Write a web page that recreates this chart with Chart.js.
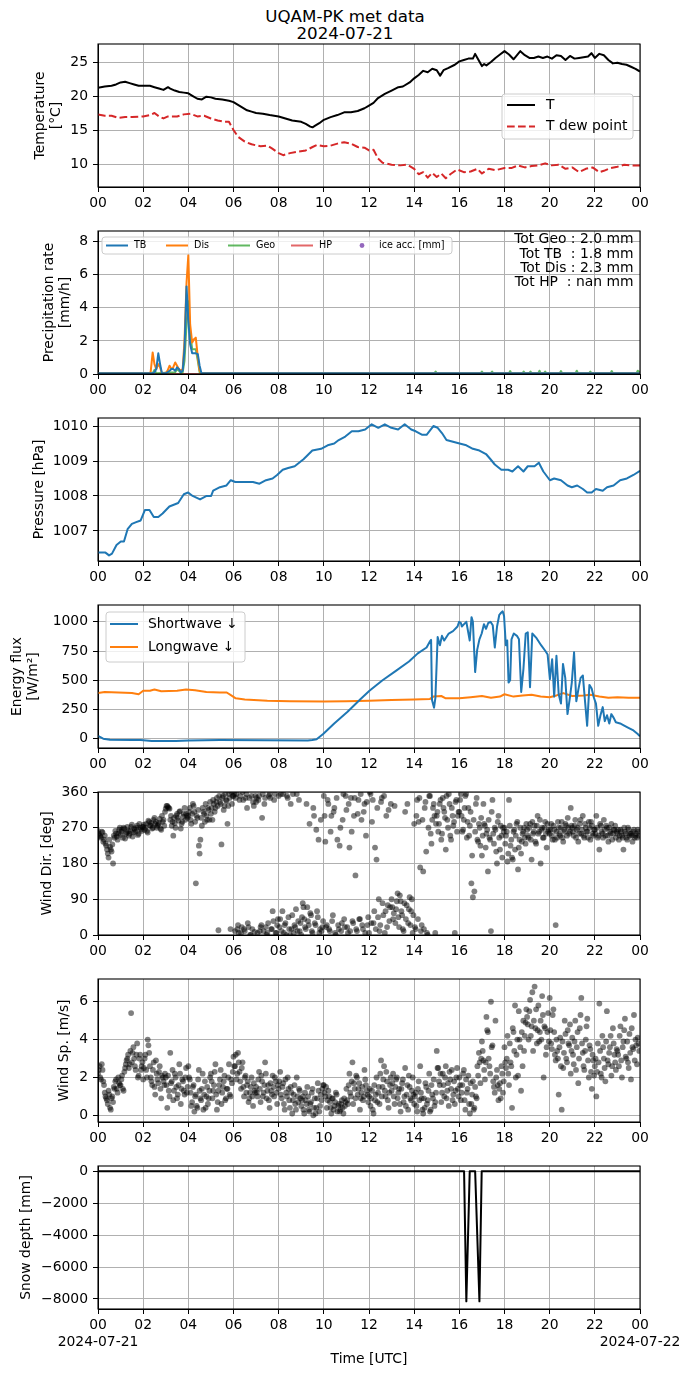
<!DOCTYPE html>
<html>
<head>
<meta charset="utf-8">
<script src="https://cdn.jsdelivr.net/npm/chart.js@4.4.1/dist/chart.umd.min.js"></script>
<style>
html,body{margin:0;padding:0;background:#fff;}
body{width:690px;height:1377px;position:relative;overflow:hidden;font-family:'DejaVu Sans';}
.ttl{position:absolute;left:0;width:690px;text-align:center;font-size:16.7px;line-height:17px;color:#000;font-family:'DejaVu Sans';}
</style>
</head>
<body>
<div class="ttl" style="top:7.5px">UQAM-PK met data</div>
<div class="ttl" style="top:24.5px">2024-07-21</div>
<script>
// ---------------- DATA ----------------
const hourTicks = [0,2,4,6,8,10,12,14,16,18,20,22,24];
const firstDay = '2024-07-21';
const nextDay = '2024-07-22';

// Temperature
const tempHours = [0,0.3,0.6,0.8,1.0,1.2,1.4,1.6,1.8,2.0, 2.3,2.5,2.7,2.9,3.1,3.2,3.4,3.6,3.8,4.0, 4.2,4.4,4.6,4.8,5.0,5.2,5.5,5.8,6.0,6.2, 6.4,6.6,6.8,7.0,7.3,7.6,8.0,8.3,8.6,9.0, 9.2,9.4,9.5,9.6,9.8,10.0,10.3,10.6,10.9,11.2, 11.5,11.8,12.0,12.2,12.4,12.7,13.0,13.3,13.5,13.8, 14.0,14.2,14.4,14.6,14.8,15.0,15.15,15.3,15.5,15.8, 16.0,16.2,16.4,16.6,16.7,16.8,16.9,17.0,17.1,17.2, 17.4,17.6,17.8,18.0,18.2,18.4,18.6,18.7,18.9,19.1, 19.3,19.5,19.7,19.9,20.1,20.3,20.5,20.7,20.9,21.1, 21.3,21.5,21.7,21.85,22.0,22.2,22.4,22.6,22.8,23.0, 23.2,23.4,23.6,23.8,24.0];
const tempVals = [21.2,21.4,21.5,21.7,22.0,22.1,21.9,21.7,21.5,21.5, 21.5,21.3,21.1,20.9,21.3,21.1,20.8,20.6,20.5,20.4, 20.0,19.6,19.5,19.9,19.8,19.6,19.5,19.3,19.1,18.7, 18.3,17.9,17.7,17.5,17.4,17.2,17.0,16.7,16.4,16.2, 15.9,15.5,15.4,15.6,16.0,16.5,16.9,17.2,17.6,17.6, 17.8,18.2,18.6,19.0,19.7,20.3,20.8,21.3,21.4,22.0, 22.6,23.1,23.7,23.5,24.0,23.8,23.0,23.8,24.1,24.6, 25.1,25.3,25.5,25.5,26.2,25.6,25.0,24.4,24.7,24.5, 25.0,25.6,26.1,26.6,26.1,25.4,26.2,26.6,26.0,25.6, 25.6,25.8,25.6,25.8,25.5,26.0,25.9,25.3,25.9,25.5, 25.6,25.7,25.8,26.3,25.6,26.2,26.0,25.3,24.8,24.9, 24.7,24.6,24.3,24.0,23.6];
const dewHours = [0,0.3,0.6,0.9,1.2,1.5,2.0,2.3,2.5,2.7, 2.9,3.1,3.5,3.8,4.1,4.4,4.7,5.0,5.3,5.6, 5.8,6.0,6.2,6.5,6.8,7.2,7.5,7.7,8.0,8.2, 8.5,8.8,9.2,9.5,9.7,10.0,10.3,10.6,10.9,11.2, 11.5,11.8,12.0,12.2,12.4,12.6,13.0,13.4,13.7,14.0, 14.2,14.4,14.6,14.8,15.0,15.2,15.4,15.6,15.9,16.2, 16.5,16.8,17.0,17.3,17.6,18.0,18.3,18.6,18.9,19.2, 19.5,19.8,20.1,20.4,20.7,21.0,21.3,21.6,21.9,22.2, 22.4,22.7,23.0,23.3,23.6,24.0];
const dewVals = [17.3,17.1,17.1,16.8,16.9,16.9,17.0,17.2,17.5,17.0, 16.7,17.0,17.0,17.3,17.4,17.0,17.1,16.7,16.4,16.2, 16.2,15.0,14.0,13.3,12.9,12.6,12.7,12.3,11.6,11.3, 11.6,11.8,12.0,12.5,12.8,12.6,12.7,13.0,13.2,13.0, 12.5,12.4,12.0,12.1,10.8,10.2,9.9,9.8,9.9,9.3, 8.5,8.8,8.0,8.7,8.1,8.6,7.9,8.5,9.2,8.8, 8.9,9.3,8.6,9.3,9.1,9.4,9.4,9.8,9.5,9.7, 9.8,10.1,9.8,9.9,9.3,9.5,8.8,9.3,9.5,8.8, 9.0,9.4,9.6,9.9,9.8,9.8];
const tempTicks = [10,15,20,25];

// Precipitation
const precipHours = [0,2.25,2.33,2.42,2.5,2.58,2.67,2.75,2.83,2.92, 3.0,3.08,3.17,3.25,3.33,3.42,3.5,3.58,3.67,3.75, 3.83,3.92,4.0,4.08,4.17,4.25,4.33,4.42,4.5,4.58, 4.67,24];
const tbVals = [0.05,0.05,0.05,0.05,0.1,0.3,1.25,0.6,0.05,0.05, 0.05,0.1,0.2,0.3,0.3,0.2,0.4,0.3,0.1,0.2, 1.5,5.3,3.2,1.8,1.25,1.25,1.25,1.2,0.5,0.05, 0.05,0.05];
const disVals = [0.05,0.05,0.1,1.3,0.6,0.3,0.6,0.4,0.05,0.05, 0.05,0.2,0.5,0.3,0.4,0.7,0.5,0.3,0.2,0.3, 2.0,5.5,7.2,3.0,1.9,2.1,2.2,1.0,0.2,0.05, 0.05,0.05];
const geoHours = [0,2.42,2.5,2.58,3.42,3.5,3.58,3.67,3.75,3.83, 3.92,4.0,4.08,4.17,4.25,4.33,4.42,4.5,4.58,14.9, 14.95,15.0,16.95,17.0,17.05,17.4,17.45,17.5,18.2,18.25, 18.3,18.8,18.85,18.9,19.1,19.15,19.2,19.5,19.55,19.6, 19.75,19.8,19.85,20.45,20.5,20.55,21.15,21.2,21.25,21.75, 21.8,21.85,22.7,22.75,22.8,23.85,23.9,24];
const geoVals = [0.05,0.05,0.25,0.05,0.1,0.3,0.2,0.05,0.1,0.8, 3.0,4.4,2.5,1.5,1.5,1.5,0.8,0.1,0.05,0.05, 0.15,0.05,0.05,0.15,0.05,0.05,0.15,0.05,0.05,0.18, 0.05,0.05,0.15,0.05,0.05,0.15,0.05,0.05,0.2,0.05, 0.05,0.15,0.05,0.05,0.18,0.05,0.05,0.2,0.05,0.05, 0.15,0.05,0.05,0.18,0.05,0.05,0.2,0.1];
const hpHours = [0,14.3];
const hpVals = [0,0];
const precipTotals = ['Tot Geo : 2.0 mm','Tot TB  : 1.8 mm','Tot Dis : 2.3 mm','Tot HP  : nan mm'];
const precipTicks = [0,2,4,6,8];

// Pressure
const presHours = [0,0.33,0.49,0.62,0.82,1.01,1.15,1.31,1.50,1.69, 1.89,2.08,2.28,2.47,2.67,2.86,3.16,3.55,3.80,3.99, 4.19,4.52,4.81,5.01,5.10,5.40,5.69,5.88,6.08,6.33, 6.57,6.86,7.15,7.44,7.73,7.93,8.18,8.42,8.71,9.10, 9.49,9.88,10.17,10.46,10.66,10.95,11.24,11.53,11.83,12.12, 12.41,12.70,12.99,13.29,13.58,13.87,14.07,14.36,14.55,14.85, 15.04,15.23,15.43,15.72,16.01,16.31,16.60,16.89,17.18,17.38, 17.57,17.86,18.16,18.35,18.60,18.84,19.03,19.33,19.52,19.72, 20.01,20.20,20.50,20.79,20.98,21.22,21.47,21.66,21.86,22.05, 22.35,22.54,22.83,23.12,23.42,23.71,24.0];
const presVals = [1006.38,1006.38,1006.3,1006.35,1006.6,1006.7,1006.7,1007.05,1007.2,1007.25, 1007.3,1007.6,1007.6,1007.4,1007.4,1007.5,1007.7,1007.8,1008.05,1008.1, 1008.0,1007.9,1008.0,1008.0,1008.15,1008.25,1008.3,1008.45,1008.4,1008.4, 1008.4,1008.4,1008.35,1008.45,1008.5,1008.6,1008.75,1008.8,1008.85,1009.05, 1009.3,1009.35,1009.45,1009.5,1009.6,1009.7,1009.85,1009.85,1009.9,1010.05, 1009.95,1010.05,1009.95,1009.9,1010.05,1009.9,1009.85,1009.75,1009.75,1010.0, 1009.95,1009.8,1009.6,1009.55,1009.5,1009.45,1009.35,1009.3,1009.2,1009.05, 1008.9,1008.75,1008.75,1008.7,1008.85,1008.7,1008.85,1008.85,1008.95,1008.7, 1008.45,1008.5,1008.45,1008.3,1008.25,1008.3,1008.2,1008.1,1008.1,1008.2, 1008.15,1008.25,1008.3,1008.45,1008.5,1008.6,1008.72];
const presTicks = [1007,1008,1009,1010];

// Radiation
const swHours = [0,0.23,0.53,1.50,1.89,2.38,3.45,4.03,5.40,7.34, 9.29,9.49,9.68,9.97,10.46,11.05,11.63,12.02,12.60,13.19, 13.77,14.16,14.55,14.69,14.75,14.79,14.88,14.94,15.04,15.14, 15.23,15.33,15.43,15.53,15.72,15.92,15.99,16.07,16.11,16.21, 16.31,16.46,16.54,16.60,16.70,16.79,16.89,16.99,17.09,17.18, 17.28,17.38,17.48,17.57,17.67,17.77,17.86,17.92,17.98,18.06, 18.12,18.18,18.25,18.31,18.41,18.55,18.64,18.74,18.84,18.94, 19.03,19.13,19.23,19.42,19.62,19.81,19.91,20.01,20.11,20.20, 20.30,20.40,20.50,20.59,20.69,20.79,20.88,20.98,21.08,21.18, 21.27,21.37,21.47,21.57,21.66,21.76,21.86,21.96,22.05,22.15, 22.25,22.35,22.44,22.54,22.64,22.73,22.83,22.93,23.12,23.32, 23.51,23.71,23.90,24.00];
const swVals = [23,0,-10,-12,-12,-20,-20,-15,-12,-13, -15,-12,-5,40,130,230,340,410,500,580, 660,730,780,830,845,330,265,350,870,800, 880,840,870,900,920,960,1000,990,960,980, 1000,840,1040,1000,570,760,850,900,980,940, 990,1000,970,780,960,1060,1080,1090,1050,800, 840,480,500,850,900,880,850,400,600,900, 910,440,900,860,800,750,720,510,680,360, 710,380,300,640,520,210,330,480,740,320, 420,520,540,310,110,460,430,350,300,110, 200,270,150,200,130,210,180,140,130,110, 90,70,40,20];
const lwHours = [0,0.3,1.5,1.8,2.0,2.3,2.5,2.8,3.5,3.9, 4.3,4.8,5.4,5.7,5.9,6.1,6.5,7.5,8.5,10, 11,12,13,14,14.7,14.85,15.2,15.4,16,16.5, 17,17.4,17.8,18,18.4,18.8,19.2,19.6,20,20.3, 20.6,21,21.5,21.8,22.2,22.6,23,23.5,24];
const lwVals = [390,400,390,380,410,410,420,405,410,420, 415,400,395,395,370,345,335,325,320,318, 320,325,330,335,340,360,365,345,345,355, 365,350,360,380,360,370,375,360,355,370, 390,365,370,375,360,350,355,350,350];
const energyTicks = [0,250,500,750,1000];

// Wind: two interleaved sample sets, every 4 minutes (15 per hour), second set 2 minutes later
const windStepHours = 4/60;
const windDir = [
262,250,245,258,240,230,215,195,222,210,180,245,255,240,265,
252,265,270,243,258,262,255,272,248,268,260,275,255,270,262,
272,265,280,258,285,275,268,290,280,270,278,292,265,285,275,
318,325,320,290,275,250,282,300,295,310,268,285,305,290,300,
300,320,280,330,310,130,295,225,240,275,310,285,300,320,290,
305,290,330,320,345,12,335,228,350,325,340,280,355,15,330,
350,10,355,25,340,5,360,15,345,320,20,0,350,335,8,
335,5,350,20,295,10,345,0,30,355,15,60,340,5,25,
350,40,10,355,25,0,345,15,330,50,5,20,355,35,10,
0,80,40,15,70,25,55,10,320,30,265,45,5,290,20,
350,235,25,330,10,300,50,320,0,240,15,270,30,355,20,
315,5,220,345,35,300,150,10,340,40,290,15,330,250,25,
5,355,285,30,220,190,45,10,335,80,350,60,20,315,70,
90,40,325,65,105,20,85,50,10,310,75,30,95,60,5,
280,15,340,285,170,25,160,320,210,0,350,255,290,330,5,
300,260,330,240,345,310,215,290,355,250,320,275,5,340,300,
310,355,260,290,350,245,320,275,130,95,110,330,240,280,225,
200,330,275,255,160,245,10,340,230,265,180,300,215,250,270,
270,250,185,340,225,195,260,215,280,165,240,205,255,270,230,
265,245,280,190,255,275,230,300,260,180,270,245,285,220,260,
255,280,240,265,25,245,270,250,285,235,260,275,295,255,320,
270,250,290,265,235,280,255,300,245,270,260,285,240,275,250,
265,300,245,215,275,255,290,250,270,235,260,280,255,265,245,
255,240,265,250,215,260,245,270,250,255,235,265,250,245,260];
const windDir2 = [
255,248,260,235,250,225,205,240,215,228,250,262,248,255,270,
260,245,268,255,272,250,262,278,258,265,270,252,280,266,272,
278,270,262,288,276,282,270,295,285,275,282,268,300,290,310,
325,322,318,300,285,295,270,305,288,312,280,298,320,305,295,
310,290,305,325,285,300,315,205,295,320,305,330,290,315,335,
320,340,310,335,325,350,330,345,315,355,338,325,345,360,350,
355,345,15,5,350,20,340,10,355,30,345,0,15,325,350,
345,340,10,25,355,330,20,5,350,345,15,35,355,5,40,
20,355,60,5,30,350,45,0,15,355,25,65,10,340,30,
45,70,20,330,35,280,50,5,300,25,60,240,15,10,35,
300,20,340,15,260,35,310,5,345,25,225,10,290,40,350,
20,330,10,260,30,345,15,305,40,355,25,310,5,335,45,
360,30,340,60,15,320,90,25,345,50,5,300,75,35,330,
70,55,30,85,45,100,60,15,80,40,330,65,25,90,50,
20,300,40,345,10,290,15,335,5,270,350,230,320,300,280,
310,280,340,255,320,295,350,270,330,240,300,285,335,260,310,
340,300,265,320,355,285,250,310,200,290,260,345,235,270,295,
250,280,220,265,290,240,310,255,270,210,285,245,275,195,260,
230,260,205,275,240,190,265,250,285,220,270,235,260,245,280,
250,270,240,285,260,235,275,255,290,265,245,270,255,280,265,
265,250,275,240,260,285,255,270,245,265,280,250,270,260,275,
260,275,245,270,255,290,265,250,280,260,245,270,285,255,265,
255,270,250,280,260,245,265,275,250,270,255,240,265,275,260,
265,250,260,245,270,255,240,265,255,250,260,245,255,265,250];
const dirTicks = [0,90,180,270,360];
const windSpeed = [
2.2,2.6,1.9,2.4,1.6,1.0,0.8,1.3,0.4,0.9,0.7,1.4,1.9,1.2,1.7,
1.6,2.1,1.3,2.5,2.9,3.2,2.7,5.4,3.3,3.0,2.4,3.8,2.1,3.2,2.6,
1.9,3.0,2.4,4.0,3.3,2.0,1.6,2.8,1.1,2.2,1.7,2.6,0.9,2.0,1.6,
2.0,0.4,1.3,3.3,1.8,0.8,2.2,1.5,1.1,2.7,0.6,1.9,1.3,2.0,1.2,
2.6,1.9,0.5,1.5,0.2,1.1,0.4,2.4,0.9,1.4,0.3,1.8,1.0,0.6,1.3,
2.2,0.9,1.6,2.7,0.3,1.3,1.9,0.6,1.5,2.1,0.9,1.4,2.7,1.0,1.7,
3.1,2.6,1.9,3.3,2.3,1.4,2.8,1.0,2.1,1.6,0.7,1.2,2.0,0.5,1.3,
1.5,1.0,2.3,0.7,1.8,1.2,2.8,0.9,1.6,0.4,1.3,2.1,1.0,1.8,0.6,
1.4,2.3,0.9,1.7,0.3,1.2,2.0,0.8,1.5,0.1,1.1,0.6,2.0,0.7,1.3,
0.5,1.0,0.1,0.8,1.5,0.3,0.6,1.2,0.0,0.9,0.4,1.7,0.2,1.1,1.4,
1.6,1.0,0.4,1.3,0.7,0.1,0.9,0.5,1.2,0.2,0.6,0.3,0.8,0.1,0.5,
1.4,0.6,2.2,1.0,2.8,1.7,0.9,2.0,1.4,0.3,1.2,0.8,2.4,1.6,1.1,
1.0,0.5,1.3,0.1,0.8,2.0,1.2,0.6,2.9,1.5,2.6,1.0,1.8,0.4,1.6,
1.3,2.2,0.6,1.9,0.9,1.4,0.2,1.7,0.7,2.5,1.1,0.3,1.5,0.8,2.0,
0.6,1.2,0.2,1.8,2.6,0.9,0.1,0.4,1.5,0.8,2.2,0.3,1.1,1.9,0.7,
3.4,2.5,1.6,0.7,2.2,1.0,2.6,1.3,0.5,1.9,2.4,1.1,0.6,2.0,1.4,
2.0,0.8,1.6,2.4,0.3,1.2,2.1,0.1,0.6,1.8,0.4,1.0,2.6,3.3,1.7,
3.9,2.9,1.9,5.2,4.4,2.6,6.0,3.7,1.5,5.0,2.4,0.8,1.7,2.6,1.2,
3.6,2.5,4.2,1.6,2.8,0.4,4.4,5.8,3.2,2.1,4.0,1.3,2.6,3.4,4.9,
5.2,4.0,6.1,4.7,3.4,6.8,5.6,4.5,3.9,5.0,6.3,2.0,4.6,3.6,5.4,
6.2,3.8,5.3,4.4,2.9,3.4,1.1,4.1,0.3,2.5,5.0,3.0,4.5,3.7,2.2,
4.1,2.7,5.0,3.6,1.7,4.6,6.2,3.3,2.4,4.0,5.1,2.0,3.5,1.4,2.9,
2.6,1.0,3.8,5.9,2.2,4.2,3.0,1.8,5.5,2.7,3.6,2.1,4.6,3.2,2.4,
3.4,2.6,4.7,2.0,3.9,5.1,3.0,2.8,4.3,1.9,3.6,5.3,4.0,2.7,3.8];
const windSpeed2 = [
2.4,2.0,2.7,1.8,1.2,0.9,0.6,1.1,0.3,1.0,1.5,1.8,1.4,2.0,1.6,
1.9,1.4,2.3,2.7,3.0,2.5,3.4,2.8,3.6,2.6,3.2,2.0,3.0,2.4,2.8,
2.5,3.2,2.0,3.7,2.6,1.8,2.4,1.5,2.9,1.9,2.3,1.4,2.1,1.8,2.2,
1.6,2.1,1.0,1.7,2.4,1.3,2.0,0.9,1.6,2.2,1.4,1.8,1.1,2.5,1.5,
2.0,1.2,0.7,1.6,1.0,0.5,1.9,1.3,0.8,2.2,1.1,0.4,1.5,0.9,2.0,
1.8,1.3,2.3,1.1,0.7,1.6,2.4,1.2,1.8,0.8,1.4,2.0,1.1,1.9,2.3,
2.6,3.2,2.2,2.8,1.8,2.5,1.5,2.0,1.2,1.8,0.9,1.5,1.0,1.7,1.2,
1.2,1.9,1.4,2.1,1.0,1.6,2.2,1.3,0.8,1.7,1.1,1.5,2.0,1.2,1.6,
1.8,1.1,1.5,0.6,1.9,1.0,1.4,0.4,1.2,0.8,1.6,0.3,1.0,1.4,0.9,
0.8,0.3,1.2,0.6,1.0,0.2,0.7,1.4,0.4,0.1,0.9,1.3,0.5,0.8,1.6,
1.2,1.5,0.8,1.0,0.4,0.9,0.3,0.7,1.1,0.5,0.2,0.6,0.4,0.9,0.7,
0.8,1.6,1.2,1.8,0.6,1.4,2.1,1.1,1.7,0.9,1.5,1.0,1.9,1.3,0.7,
1.4,0.9,0.3,1.6,1.1,0.7,1.5,2.2,1.0,1.9,1.3,2.3,0.8,1.2,2.0,
1.7,1.0,1.5,2.0,1.2,0.6,1.4,1.9,1.0,0.5,1.6,2.1,0.9,1.3,1.1,
1.0,0.5,1.4,0.8,1.2,0.3,0.9,1.7,0.6,1.3,0.2,1.6,0.9,0.5,1.2,
2.5,1.8,2.2,1.2,1.6,2.0,0.9,1.7,2.3,1.4,0.8,1.8,1.3,2.5,1.0,
1.6,1.2,2.2,0.8,1.9,1.4,0.6,1.7,1.1,0.3,1.5,0.9,2.1,2.8,3.0,
3.4,2.4,2.8,4.5,3.0,2.2,3.6,1.8,1.2,2.0,1.6,1.4,0.9,2.2,1.8,
2.8,3.0,2.2,3.8,2.6,4.6,3.4,2.0,4.0,5.5,3.6,4.4,5.0,4.2,5.6,
4.8,5.5,4.2,6.5,5.0,4.6,3.8,5.8,4.4,4.0,5.3,4.7,3.2,4.4,3.9,
4.5,3.5,5.6,3.2,4.0,3.0,3.6,2.6,3.9,3.3,4.3,2.8,3.8,4.8,3.4,
3.2,3.9,2.4,4.4,3.0,5.3,3.8,2.6,3.4,4.7,2.9,3.7,2.3,3.2,2.1,
3.0,2.3,2.8,3.4,2.0,3.6,2.5,3.9,2.9,3.3,4.2,2.6,3.8,2.8,3.5,
3.2,4.2,2.9,3.6,4.5,3.1,3.9,2.5,3.3,4.6,3.5,2.9,3.7,4.1,3.4];
const speedTicks = [0,2,4,6];

// Snow depth
const snowHours = [0,16.21,16.31,16.46,16.70,16.89,16.99,24];
const snowVals = [0,0,-8150,0,0,-8150,0,0];
const snowTicks = [-8000,-6000,-4000,-2000,0];

// ---------------- DRAWING ----------------
const FAM = 'DejaVu Sans';
const FS = 13.9;
Chart.defaults.font.family = FAM;
Chart.defaults.font.size = FS;
Chart.defaults.color = '#000';

const PLOT_H = 143, PAD_TOP = 14;
const panelTops = [44,231,418,605,792,979,1166];

function xy(xs, ys){ return xs.map((x,i)=>({x:x, y:ys[i]})); }
function idxTimes(arr, step, offset){ return arr.map((_,i)=>i*step + (offset||0)); }
function hourLabel(v){ return String(Math.round(v)%24).padStart(2,'0'); }
function fmtNum(v){ return v < 0 ? '\u2212' + Math.abs(v) : String(v); }

function lineDs(label, xs, ys, color, width, dash){
  return {label:label, data:xy(xs,ys), showLine:true, borderColor:color, backgroundColor:color,
          borderWidth:width, borderDash:dash||[], pointRadius:0, clip:0, tension:0,
          borderJoinStyle:'round'};
}
function dotDs(xs, ys){
  return {data:xy(xs,ys), showLine:false, pointRadius:2.9, pointBackgroundColor:'rgba(0,0,0,0.5)',
          pointBorderWidth:0, clip:0};
}

function roundRectPath(ctx, x, y, w, h, r){
  ctx.beginPath();
  ctx.moveTo(x+r, y); ctx.lineTo(x+w-r, y); ctx.arcTo(x+w, y, x+w, y+r, r);
  ctx.lineTo(x+w, y+h-r); ctx.arcTo(x+w, y+h, x+w-r, y+h, r);
  ctx.lineTo(x+r, y+h); ctx.arcTo(x, y+h, x, y+h-r, r);
  ctx.lineTo(x, y+r); ctx.arcTo(x, y, x+r, y, r); ctx.closePath();
}

const framePlugin = {
  id:'frame',
  afterDatasetsDraw(chart){
    const ctx = chart.ctx, a = chart.chartArea;
    ctx.save(); ctx.strokeStyle = '#000'; ctx.lineWidth = 1.1;
    ctx.strokeRect(a.left, a.top, a.right-a.left, a.bottom-a.top);
    ctx.restore();
  }
};
const boxLegend = {
  id:'boxLegend',
  afterDraw(chart, args, o){
    if (!o || !o.show) return;
    const ctx = chart.ctx, a = chart.chartArea;
    const bx = (o.right != null) ? a.right - o.right - o.w : a.left + o.left;
    const by = a.top + o.top;
    ctx.save();
    roundRectPath(ctx, bx, by, o.w, o.h, 3);
    ctx.fillStyle = 'rgba(255,255,255,0.8)'; ctx.fill();
    ctx.strokeStyle = '#cccccc'; ctx.lineWidth = 1; ctx.stroke();
    ctx.font = o.fontSize + 'px "DejaVu Sans"';
    ctx.textBaseline = 'middle'; ctx.textAlign = 'left';
    let k = 0;
    chart.data.datasets.forEach((ds) => {
      if (!ds.label) return;
      const hx = bx + (o.colX ? o.colX[k] : o.hx);
      const cy = by + o.rowY0 + (o.colX ? 0 : k*o.rowH);
      if (ds.legendDot) {
        ctx.beginPath(); ctx.arc(hx + o.hLen/2, cy, o.dotR, 0, Math.PI*2);
        ctx.fillStyle = ds.backgroundColor; ctx.fill();
      } else {
        ctx.beginPath(); ctx.setLineDash(ds.borderDash || []);
        ctx.strokeStyle = ds.borderColor; ctx.lineWidth = ds.borderWidth;
        ctx.moveTo(hx, cy); ctx.lineTo(hx + o.hLen, cy); ctx.stroke(); ctx.setLineDash([]);
      }
      ctx.fillStyle = '#000';
      ctx.fillText(ds.label, hx + o.hLen + o.gap, cy);
      k++;
    });
    ctx.restore();
  }
};
const notesPlugin = {
  id:'notes',
  afterDraw(chart, args, o){
    if (!o || !o.lines) return;
    const ctx = chart.ctx, a = chart.chartArea;
    ctx.save(); ctx.font = o.fontSize + 'px "DejaVu Sans"';
    ctx.fillStyle = '#000'; ctx.textAlign = 'right'; ctx.textBaseline = 'middle';
    o.lines.forEach((t,i)=> ctx.fillText(t, a.right - o.right, a.top + o.y0 + i*o.dy));
    ctx.restore();
  }
};
Chart.register(framePlugin, boxLegend, notesPlugin);

function makePanel(idx, p){
  const top = panelTops[idx] - PAD_TOP;
  const h = PAD_TOP + PLOT_H + p.xH;
  const cv = document.createElement('canvas');
  cv.width = 690; cv.height = h;
  cv.style.cssText = 'position:absolute;left:0;top:' + top + 'px;width:690px;height:' + h + 'px;';
  document.body.appendChild(cv);
  const gridOpt = {color:'#b0b0b0', lineWidth:1, tickLength:5, tickColor:'#000', tickWidth:1, drawTicks:true};
  const tickFont = {family:FAM, size:FS};
  return new Chart(cv, {
    type:'scatter',
    data:{datasets:p.datasets},
    options:{
      responsive:false, animation:false, events:[],
      layout:{padding:{left:0, right:50, top:PAD_TOP, bottom:0}},
      plugins:{legend:{display:false}, tooltip:{enabled:false},
               boxLegend:p.legend || {show:false}, notes:p.notes || {}},
      scales:{
        x:{type:'linear', position:'bottom', min:0, max:24,
           afterBuildTicks:(s)=>{ s.ticks = hourTicks.map(v=>({value:v})); },
           afterFit:(s)=>{ s.height = p.xH; },
           ticks:{color:'#000', font:tickFont, padding:3, maxRotation:0, minRotation:0, autoSkip:false,
                  callback:p.xLabel || ((v)=>hourLabel(v))},
           grid:gridOpt, border:{display:true, color:'#000', width:1},
           title: p.xTitle ? {display:true, text:p.xTitle, color:'#000', font:{family:FAM, size:FS},
                              padding:{top:0, bottom:9.7}} : {display:false}},
        y:{type:'linear', position:'left', min:p.yMin, max:p.yMax,
           afterBuildTicks:(s)=>{ s.ticks = p.yTicks.map(v=>({value:v})); },
           afterFit:(s)=>{ s.width = 98; },
           ticks:{color:'#000', font:tickFont, padding:5, callback:(v)=>fmtNum(v)},
           grid:gridOpt, border:{display:true, color:'#000', width:1},
           title:{display:true, text:p.yTitle, color:'#000', font:{family:FAM, size:FS},
                  padding:{top:p.yTitlePad, bottom:0}}}
      }
    }
  });
}

// 1. Temperature
makePanel(0, {
  xH:30, yMin:6.62, yMax:27.65, yTicks:tempTicks, yTitle:['Temperature','[°C]'], yTitlePad:31.7,
  datasets:[
    lineDs('T', tempHours, tempVals, '#000000', 2),
    lineDs('T dew point', dewHours, dewVals, '#d62728', 2, [7.7,3.3])
  ],
  legend:{show:true, right:7, top:50, w:131, h:45, rowY0:11, rowH:21.5, hx:5, hLen:28, gap:11, fontSize:FS}
});

// 2. Precipitation
makePanel(1, {
  xH:30, yMin:0, yMax:8.65, yTicks:precipTicks, yTitle:['Precipitation rate','[mm/h]'], yTitlePad:40.7,
  datasets:[
    lineDs('TB', precipHours, tbVals, '#1f77b4', 2),
    lineDs('Dis', precipHours, disVals, '#ff7f0e', 2),
    lineDs('Geo', geoHours, geoVals, 'rgba(44,160,44,0.75)', 2),
    lineDs('HP', hpHours, hpVals, 'rgba(214,39,40,0.7)', 2),
    {label:'ice acc. [mm]', data:[], showLine:false, legendDot:true, backgroundColor:'#9467bd', pointRadius:2.5}
  ],
  legend:{show:true, left:4, top:6, w:350, h:17, rowY0:8.5, rowH:0, colX:[4,64,126,189,249], hLen:22, gap:6, fontSize:9.6, dotR:2.4},
  notes:{lines:precipTotals, right:6.5, y0:8.5, dy:14.4, fontSize:FS}
});

// 3. Pressure
makePanel(2, {
  xH:30, yMin:1006.14, yMax:1010.23, yTicks:presTicks, yTitle:'Pressure [hPa]', yTitlePad:30.7,
  datasets:[ lineDs('', presHours, presVals, '#1f77b4', 2) ]
});

// 4. Energy flux
makePanel(3, {
  xH:30, yMin:-80, yMax:1144, yTicks:energyTicks, yTitle:['Energy flux','[W/m²]'], yTitlePad:8.7,
  datasets:[
    lineDs('Shortwave \u2193', swHours, swVals, '#1f77b4', 2),
    lineDs('Longwave \u2193', lwHours, lwVals, '#ff7f0e', 2)
  ],
  legend:{show:true, left:8, top:7, w:139, h:50, rowY0:12, rowH:23, hx:4, hLen:28, gap:10, fontSize:FS}
});

// 5. Wind direction
makePanel(4, {
  xH:30, yMin:0, yMax:360, yTicks:dirTicks, yTitle:'Wind Dir. [deg]', yTitlePad:38.7,
  datasets:[
    dotDs(idxTimes(windDir, windStepHours), windDir),
    dotDs(idxTimes(windDir2, windStepHours, windStepHours/2), windDir2)
  ]
});

// 6. Wind speed
makePanel(5, {
  xH:30, yMin:-0.35, yMax:7.2, yTicks:speedTicks, yTitle:'Wind Sp. [m/s]', yTitlePad:55.7,
  datasets:[
    dotDs(idxTimes(windSpeed, windStepHours), windSpeed),
    dotDs(idxTimes(windSpeed2, windStepHours, windStepHours/2), windSpeed2)
  ]
});

// 7. Snow depth
makePanel(6, {
  xH:68, yMin:-8628, yMax:333, yTicks:snowTicks, yTitle:'Snow depth [mm]', yTitlePad:18.2,
  xTitle:'Time [UTC]',
  xLabel:(v, i, ticks)=> i === 0 ? [hourLabel(v), firstDay] : (i === ticks.length-1 ? [hourLabel(v), nextDay] : hourLabel(v)),
  datasets:[ lineDs('', snowHours, snowVals, '#000000', 2) ]
});
</script>
</body>
</html>
